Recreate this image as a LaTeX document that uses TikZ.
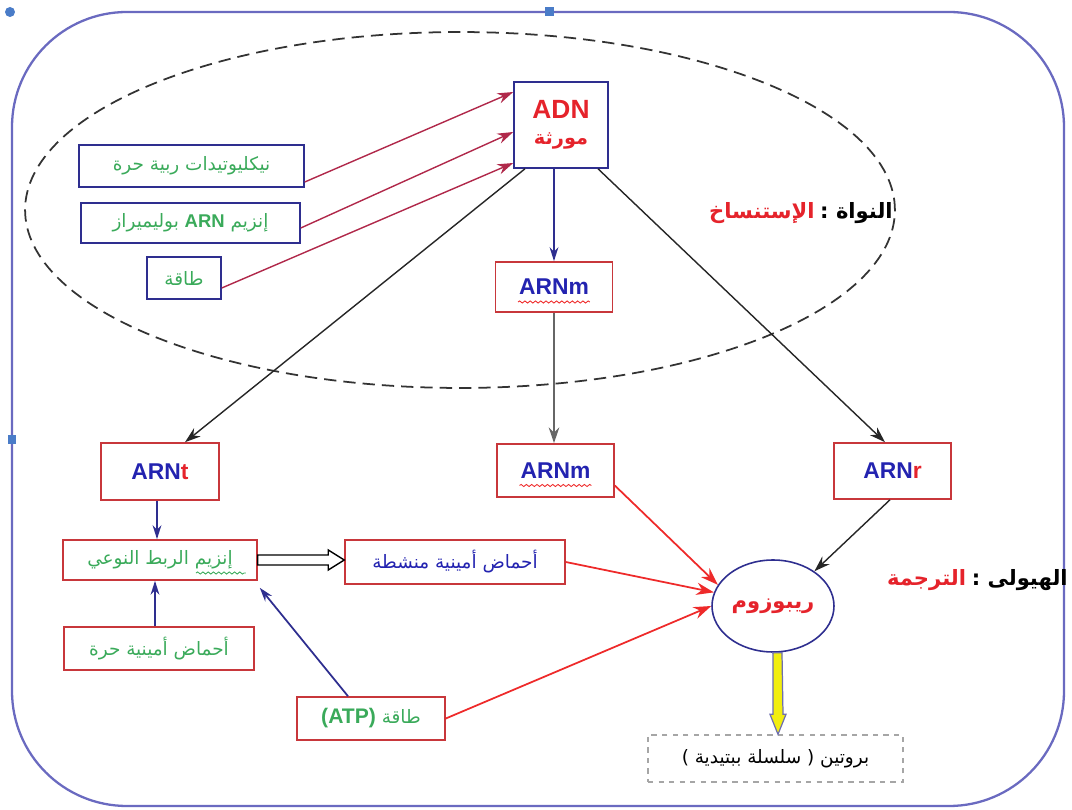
\documentclass[tikz,border=0pt]{standalone}
\usepackage{fontspec}
\setmainfont{Liberation Sans}
\newfontfamily\ar[Script=Arabic]{DejaVu Sans}
\TeXXeTstate=1
\usetikzlibrary{arrows.meta,shapes.geometric,decorations.pathmorphing,calc}
\definecolor{navy}{HTML}{2E2E8F}
\definecolor{boxred}{HTML}{C8373B}
\definecolor{txtgreen}{HTML}{3AAA5A}
\definecolor{txtblue}{HTML}{2323B0}
\definecolor{txtred}{HTML}{E5232B}
\definecolor{arrred}{HTML}{B0284A}
\definecolor{brightred}{HTML}{EE2A2A}
\definecolor{framecol}{HTML}{6A6AC0}
\definecolor{handle}{HTML}{4A7CC8}
\definecolor{yel}{HTML}{F2EE10}
\begin{document}
\begin{tikzpicture}[x=0.02cm,y=-0.02cm,
  bbox/.style={draw=navy,line width=0.9pt,inner sep=0pt,align=center},
  rbox/.style={draw=boxred,line width=0.9pt,inner sep=0pt,align=center},
  artxt/.style={font=\ar\fontsize{10.5}{12}\selectfont},
  lbl/.style={anchor=east,font=\ar\bfseries\fontsize{12}{14}\selectfont,inner sep=0pt},
  arntxt/.style={font=\bfseries\fontsize{13}{15}\selectfont,text=txtblue},
  redarr/.style={draw=arrred,line width=0.8pt,-{Stealth[length=9pt,width=6pt]}},
  blkarr/.style={draw=black!85,line width=0.8pt,-{Stealth[length=9pt,width=6pt]}},
  bluarr/.style={draw=navy,line width=1pt,-{Stealth[length=8pt,width=5pt]}},
  brarr/.style={draw=brightred,line width=1pt,-{Stealth[length=10pt,width=7pt]}},
  wavy/.style={decorate,decoration={snake,amplitude=0.6pt,segment length=3pt},line width=0.5pt}]
\useasboundingbox (0,0) rectangle (1072,810);
% outer frame
\draw[framecol,line width=1.3pt,rounded corners=2.3cm] (12,12) rectangle (1064,806);
\fill[handle] (10,12) circle (0.1cm);
\fill[handle] (549,12) ++(-0.09cm,-0.09cm) rectangle ++(0.18cm,0.18cm);
\fill[handle] (12,440) ++(-0.09cm,-0.09cm) rectangle ++(0.18cm,0.18cm);
% nucleus
\draw[black!80,line width=1pt,dash pattern=on 7pt off 4pt] (460,210) ellipse [x radius=8.7cm,y radius=3.56cm];
% nodes
\node[bbox,minimum width=1.88cm,minimum height=1.72cm] (ADN) at (561,125)
  {{\bfseries\fontsize{15}{17}\selectfont\color{txtred}ADN}\\[3pt]{\ar\bfseries\fontsize{11}{13}\selectfont\color{txtred}\beginR مورثة\endR}};
\node[bbox,artxt,text=txtgreen,minimum width=4.5cm,minimum height=0.84cm] (nucl) at (191.5,166)
  {\beginR نيكليوتيدات ربية حرة\endR};
\node[bbox,artxt,text=txtgreen,minimum width=4.38cm,minimum height=0.8cm] (enzARN) at (190.5,223)
  {\beginR إنزيم \beginL{\rmfamily\bfseries ARN}\endL{} بوليميراز\endR};
\node[bbox,artxt,text=txtgreen,minimum width=1.48cm,minimum height=0.84cm] (taqa) at (184,278)
  {\beginR طاقة\endR};
\node[lbl,text=black] (nuclab) at (893,213) {\beginR النواة :\endR};
\node[lbl,text=txtred] (transc) at ([xshift=-0.1cm]nuclab.west) {\beginR الإستنساخ\endR};
\node[rbox,arntxt,minimum width=2.34cm,minimum height=1.0cm] (ARNm1) at (554,287) {ARNm};
\node[rbox,arntxt,minimum width=2.34cm,minimum height=1.06cm] (ARNm2) at (555.5,470.5) {ARNm};
\node[rbox,arntxt,minimum width=2.36cm,minimum height=1.14cm] (ARNt) at (160,471.5) {ARN{\color{txtred}t}};
\node[rbox,arntxt,minimum width=2.34cm,minimum height=1.12cm] (ARNr) at (892.5,471) {ARN{\color{txtred}r}};
\draw[brightred,wavy] ([xshift=-0.72cm,yshift=-0.3cm]ARNm1.center) -- ++(1.44cm,0);
\draw[brightred,wavy] ([xshift=-0.72cm,yshift=-0.3cm]ARNm2.center) -- ++(1.44cm,0);
\node[rbox,artxt,text=txtgreen,minimum width=3.88cm,minimum height=0.8cm] (enz) at (160,560)
  {\beginR إنزيم الربط النوعي\endR};
\draw[txtgreen,wavy] ([xshift=0.72cm,yshift=-0.26cm]enz.center) -- ++(1.0cm,0);
\node[rbox,artxt,text=txtgreen,minimum width=3.8cm,minimum height=0.86cm] (freeAA) at (159,648.5)
  {\beginR أحماض أمينية حرة\endR};
\node[rbox,artxt,text=txtblue,minimum width=4.4cm,minimum height=0.88cm] (actAA) at (455,562)
  {\beginR أحماض أمينية منشطة\endR};
\node[draw=navy,line width=0.9pt,ellipse,minimum width=2.44cm,minimum height=1.84cm,inner sep=0pt,
  font=\ar\bfseries\fontsize{12}{14}\selectfont,text=txtred] (ribo) at (773,606) {\beginR ريبوزوم\endR};
\node[rbox,artxt,text=txtgreen,minimum width=2.96cm,minimum height=0.86cm] (ATP) at (371,718.5)
  {\beginR طاقة \beginL{\rmfamily\bfseries\fontsize{12}{14}\selectfont(ATP)}\endL\endR};
\node[draw=gray!70,dashed,line width=0.8pt,artxt,text=black,minimum width=5.1cm,minimum height=0.94cm,inner sep=0pt] (prot) at (775.5,758.5)
  {\beginR بروتين ( سلسلة ببتيدية )\endR};
\node[lbl,text=black] (cytolab) at (1068,580) {\beginR الهيولى :\endR};
\node[lbl,text=txtred] (transl) at ([xshift=-0.1cm]cytolab.west) {\beginR الترجمة\endR};
% connectors
\draw[redarr] ([yshift=-0.32cm]nucl.east) -- ([yshift=0.66cm]ADN.west);
\draw[redarr] ([yshift=-0.1cm]enzARN.east) -- ([yshift=-0.14cm]ADN.west);
\draw[redarr] ([yshift=-0.2cm]taqa.east) -- ([yshift=-0.76cm]ADN.west);
\draw[bluarr] (ARNm1.north |- ADN.south) -- (ARNm1.north);
\draw[blkarr] ([xshift=-0.72cm]ADN.south) -- ([xshift=0.5cm]ARNt.north);
\draw[blkarr] ([xshift=0.74cm]ADN.south) -- ([xshift=-0.15cm]ARNr.north);
\draw[blkarr,draw=black!60] (ARNm1.south) -- (ARNm2.north -| ARNm1.south);
\draw[bluarr] ([xshift=-0.06cm]ARNt.south) -- ([xshift=-0.06cm]enz.north -| ARNt.south);
\draw[bluarr] ([xshift=-0.08cm]freeAA.north) -- ([xshift=-0.08cm]enz.south -| freeAA.north);
\draw[bluarr] ([xshift=-0.46cm]ATP.north) -- ([xshift=0.04cm,yshift=-0.14cm]enz.south east);
\draw[brarr] ([yshift=-0.3cm]ARNm2.east) -- (ribo.159);
\draw[brarr] (actAA.east) -- (ribo.167);
\draw[brarr] (ATP.east) -- (ribo.180);
\draw[blkarr] ([xshift=-0.05cm]ARNr.south) -- (ribo.40);
% hollow arrow
\coordinate (ha) at (enz.east);
\coordinate (hb) at (actAA.west |- enz.east);
\draw[black,line width=0.8pt,fill=white] ($(ha)+(0,-5)$) -- ($(hb)+(-16,-5)$) -- ($(hb)+(-16,-10)$) -- (hb)
  -- ($(hb)+(-16,10)$) -- ($(hb)+(-16,5)$) -- ($(ha)+(0,5)$) -- cycle;
% yellow arrow
\coordinate (ya) at ([xshift=0.08cm]ribo.south);
\coordinate (yb) at ([xshift=0.05cm]prot.north);
\draw[navy!70,line width=0.7pt,fill=yel] ($(ya)+(-5,0)$) -- ($(yb |- ya)+(-5,0)$) -- ($(yb)+(-5,-20)$) -- ($(yb)+(-8,-20)$) -- (yb)
  -- ($(yb)+(8,-20)$) -- ($(yb)+(5,-20)$) -- ($(ya)+(5,0)$) -- cycle;
\end{tikzpicture}
\end{document}
